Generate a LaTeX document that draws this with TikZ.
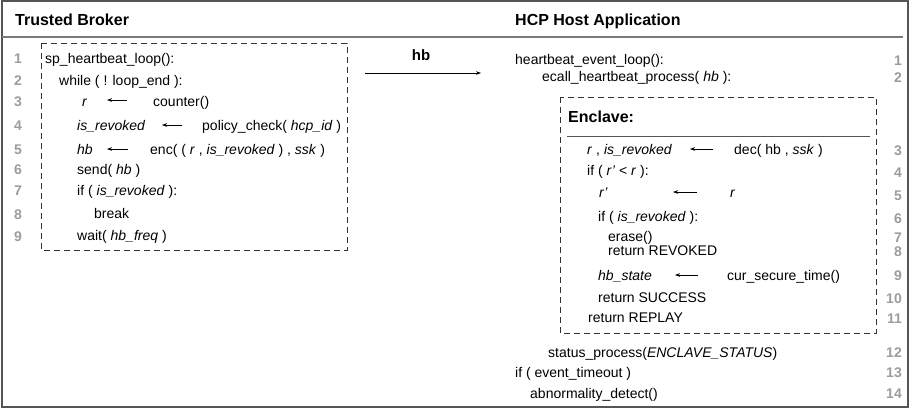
\documentclass[tikz,border=0pt]{standalone}
\usepackage{fontspec}
\setmainfont{Liberation Sans}
\usetikzlibrary{arrows.meta,positioning}
\definecolor{numgray}{HTML}{9C9C9C}
\definecolor{framegray}{HTML}{555555}
\definecolor{rulegray}{HTML}{7A7A7A}

\begin{document}
\begin{tikzpicture}[x=1pt, y=-1pt,
  code/.style={anchor=base west, inner sep=0pt, font=\fontsize{14}{16}\selectfont},
  lnum/.style={anchor=base, inner sep=0pt, text=numgray, font=\fontsize{14}{16}\selectfont\bfseries},
  rnum/.style={anchor=base east, inner sep=0pt, text=numgray, font=\fontsize{14}{16}\selectfont\bfseries},
  heading/.style={anchor=base west, inner sep=0pt, font=\fontsize{16}{18}\selectfont\bfseries},
  dashbox/.style={draw=black!80, line width=0.9pt, dash pattern=on 6pt off 4pt},
  assign/.style={draw, line width=0.7pt, -{Stealth[length=5pt,width=3.6pt]}}]
  \useasboundingbox (0,0) rectangle (915,410);

  % frame and header rule
  \draw[framegray, line width=1.2pt] (2,1) rectangle (908,407);
  \draw[rulegray, line width=1.3pt] (2,37) -- (903,37);

  \node[heading] (broker) at (15,25) {Trusted Broker};
  \node[heading] (host) at (515,25) {HCP Host Application};

  % trusted broker code
  \draw[dashbox] (41,43) rectangle (347,250);
  \node[lnum] (b1) at (18,63) {1};
  \node[lnum] (b2) at (18,85) {2};
  \node[lnum] (b3) at (18,106) {3};
  \node[lnum] (b4) at (18,130) {4};
  \node[lnum] (b5) at (18,154) {5};
  \node[lnum] (b6) at (18,174) {6};
  \node[lnum] (b7) at (18,195) {7};
  \node[lnum] (b8) at (18,219) {8};
  \node[lnum] (b9) at (18,241) {9};

  \node[code] (loop) at (45,63) {sp\_heartbeat\_loop():};
  \node[code] (while) at (59,85) {while ( ! loop\_end ):};
  \node[code] (rvar) at (82,106) {\textit{r}};
  \node[code] (counter) at (153,106) {counter()};
  \node[code] (revvar) at (77,130) {\textit{is\_revoked}};
  \node[code] (policy) at (202,130) {policy\_check( \textit{hcp\_id} )};
  \node[code] (hbvar) at (77,154) {\textit{hb}};
  \node[code] (enc) at (150,154) {enc( ( \textit{r} , \textit{is\_revoked} ) , \textit{ssk} )};
  \node[code] (send) at (77,174) {send( \textit{hb} )};
  \node[code] (ifrev) at (77,195) {if ( \textit{is\_revoked} ):};
  \node[code] (break) at (94,218) {break};
  \node[code] (wait) at (77,240) {wait( \textit{hb\_freq} )};

  \coordinate (ar3) at (127,100);
  \coordinate (ar4) at (182,125);
  \coordinate (ar5) at (128,149);
  \draw[assign] (ar3) -- ++(-20,0);
  \draw[assign] (ar4) -- ++(-20,0);
  \draw[assign] (ar5) -- ++(-21,0);

  % heartbeat message
  \coordinate (hbout) at (365,73);
  \coordinate (hbin) at (481,73);
  \draw[assign] (hbout) -- (hbin);
  \node[anchor=base, inner sep=0pt, font=\fontsize{15}{18}\selectfont\bfseries] (hblabel) at (421,60) {hb};

  % host application code
  \node[rnum] (h1) at (902,65) {1};
  \node[rnum] (h2) at (902,82) {2};
  \node[rnum] (h3) at (902,155) {3};
  \node[rnum] (h4) at (902,177) {4};
  \node[rnum] (h5) at (902,200) {5};
  \node[rnum] (h6) at (902,223) {6};
  \node[rnum] (h7) at (902,242) {7};
  \node[rnum] (h8) at (902,256) {8};
  \node[rnum] (h9) at (902,280) {9};
  \node[rnum] (h10) at (902,303) {10};
  \node[rnum] (h11) at (902,323) {11};
  \node[rnum] (h12) at (902,357) {12};
  \node[rnum] (h13) at (902,377) {13};
  \node[rnum] (h14) at (902,398) {14};

  \node[code] (evloop) at (515,64) {heartbeat\_event\_loop():};
  \node[code] (ecall) at (542,81) {ecall\_heartbeat\_process( \textit{hb} ):};

  % enclave
  \draw[dashbox] (560,97) rectangle (876,333);
  \node[heading] (enclave) at (568,122) {Enclave:};
  \draw[framegray, line width=1pt] (567,136) -- (870,136);

  \node[code] (rrev) at (587,154) {\textit{r} , \textit{is\_revoked}};
  \node[code] (dec) at (734,154) {dec( hb , \textit{ssk} )};
  \node[code] (ifr) at (587,175) {if ( \textit{r'} < \textit{r} ):};
  \node[code] (rprime) at (599,197) {\textit{r'}};
  \node[code] (rnew) at (730,197) {\textit{r}};
  \node[code] (ifrev2) at (598,221) {if ( \textit{is\_revoked} ):};
  \node[code] (erase) at (608,241) {erase()};
  \node[code] (retrev) at (608,255) {return REVOKED};
  \node[code] (state) at (598,280) {\textit{hb\_state}};
  \node[code] (time) at (727,280) {cur\_secure\_time()};
  \node[code] (retok) at (598,302) {return SUCCESS};
  \node[code] (retrep) at (588,322) {return REPLAY};

  \coordinate (ar13) at (713,149);
  \coordinate (ar15) at (697,192);
  \coordinate (ar19) at (698,275);
  \draw[assign] (ar13) -- ++(-23,0);
  \draw[assign] (ar15) -- ++(-24,0);
  \draw[assign] (ar19) -- ++(-23,0);

  \node[code] (status) at (548,357) {status\_process(\textit{ENCLAVE\_STATUS})};
  \node[code] (timeout) at (515,377) {if ( event\_timeout )};
  \node[code] (detect) at (530,398) {abnormality\_detect()};
\end{tikzpicture}
\end{document}
